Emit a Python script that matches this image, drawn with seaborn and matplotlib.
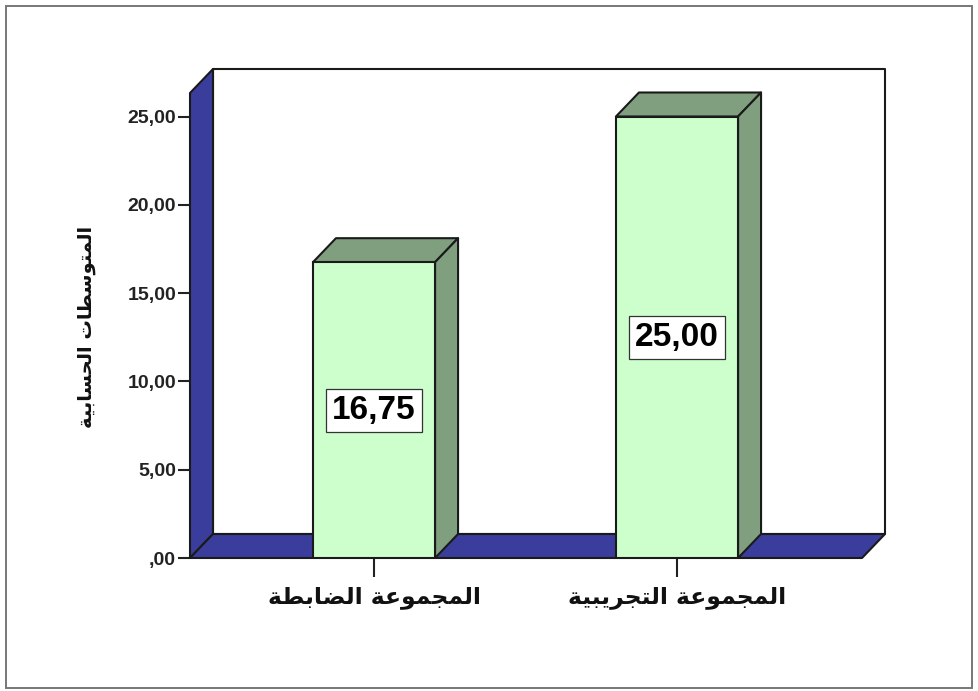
import matplotlib
matplotlib.use("Agg")
import matplotlib.pyplot as plt
from matplotlib.patches import Polygon, Rectangle
import pandas as pd
import seaborn as sns

# Chart values
groups = ["المجموعة الضابطة", "المجموعة التجريبية"]
means = [16.75, 25.00]
y_ticks = [0, 5, 10, 15, 20, 25]
y_title = "المتوسطات الحسابية"

# Colours
BLUE = "#3A3D9C"
LIGHT_GREEN = "#CCFFCC"
DARK_GREEN = "#7F9F7F"

# Arabic presentation forms: isolated, final, initial, medial
FORMS = {
    "ا": ("\uFE8D", "\uFE8E", None, None),
    "ب": ("\uFE8F", "\uFE90", "\uFE91", "\uFE92"),
    "ة": ("\uFE93", "\uFE94", None, None),
    "ت": ("\uFE95", "\uFE96", "\uFE97", "\uFE98"),
    "ج": ("\uFE9D", "\uFE9E", "\uFE9F", "\uFEA0"),
    "ح": ("\uFEA1", "\uFEA2", "\uFEA3", "\uFEA4"),
    "ر": ("\uFEAD", "\uFEAE", None, None),
    "س": ("\uFEB1", "\uFEB2", "\uFEB3", "\uFEB4"),
    "ض": ("\uFEBD", "\uFEBE", "\uFEBF", "\uFEC0"),
    "ط": ("\uFEC1", "\uFEC2", "\uFEC3", "\uFEC4"),
    "ع": ("\uFEC9", "\uFECA", "\uFECB", "\uFECC"),
    "ل": ("\uFEDD", "\uFEDE", "\uFEDF", "\uFEE0"),
    "م": ("\uFEE1", "\uFEE2", "\uFEE3", "\uFEE4"),
    "و": ("\uFEED", "\uFEEE", None, None),
    "ي": ("\uFEF1", "\uFEF2", "\uFEF3", "\uFEF4"),
}


def shape(text):
    """Join Arabic letters and lay them out left to right for drawing."""
    out = []
    for i, ch in enumerate(text):
        if ch not in FORMS:
            out.append(ch)
            continue
        prev = text[i - 1] if i else " "
        nxt = text[i + 1] if i + 1 < len(text) else " "
        joins_prev = prev in FORMS and FORMS[prev][2] is not None
        joins_next = nxt in FORMS and FORMS[ch][2] is not None
        iso, fin, ini, med = FORMS[ch]
        if joins_prev and joins_next:
            out.append(med)
        elif joins_prev:
            out.append(fin)
        elif joins_next:
            out.append(ini)
        else:
            out.append(iso)
    return "".join(reversed(out))


def comma(value):
    text = f"{value:.2f}".replace(".", ",")
    return text[1:] if text.startswith("0,") else text


sns.set_style("white")
W, H = 979, 691
fig = plt.figure(figsize=(W / 100, H / 100), dpi=100, facecolor="white")

# Axes box equals the front plane of the 3D frame (pixel layout)
left, right, bottom, top = 190, 862, 558, 93
ax = fig.add_axes([left / W, 1 - bottom / H, (right - left) / W, (bottom - top) / H])
ax.patch.set_alpha(0)

df = pd.DataFrame({"group": groups, "mean": means})
sns.barplot(data=df, x="group", y="mean", ax=ax, width=0.403, color=LIGHT_GREEN,
            saturation=1, edgecolor="#1a1a1a", linewidth=1.5, zorder=5)

y_per_px = 25 / (558 - 116.5)
ymax = (bottom - top) * y_per_px
x_per_px = 1 / 303
xmin = -(374 - left) * x_per_px
xmax = xmin + (right - left) * x_per_px
ax.set_xlim(xmin, xmax)
ax.set_ylim(0, ymax)

dx, dy = 23 * x_per_px, 24 * y_per_px
line = dict(edgecolor="#1a1a1a", linewidth=1.5, clip_on=False, joinstyle="round")

# Back wall, side wall and floor
ax.add_patch(Rectangle((xmin + dx, dy), xmax - xmin, ymax, facecolor="white", zorder=1, **line))
ax.add_patch(Polygon([(xmin, 0), (xmin + dx, dy), (xmin + dx, ymax + dy), (xmin, ymax)],
                     facecolor=BLUE, zorder=2, **line))
ax.add_patch(Polygon([(xmin, 0), (xmax, 0), (xmax + dx, dy), (xmin + dx, dy)],
                     facecolor=BLUE, zorder=2, **line))

# Top and side faces of each bar, taken from the bar rectangles
bars = list(ax.containers[0])
for bar in bars:
    x0, w, h = bar.get_x(), bar.get_width(), bar.get_height()
    x1 = x0 + w
    ax.add_patch(Polygon([(x0, h), (x1, h), (x1 + dx, h + dy), (x0 + dx, h + dy)],
                         facecolor=DARK_GREEN, zorder=4, **line))
    ax.add_patch(Polygon([(x1, 0), (x1, h), (x1 + dx, h + dy), (x1 + dx, dy)],
                         facecolor=DARK_GREEN, zorder=4, **line))

# Value labels in white boxes, centred on half the bar height
for bar, value in zip(bars, means):
    ax.annotate(comma(value), (bar.get_x() + bar.get_width() / 2, value / 2),
                xytext=(0, 2), textcoords="offset points",
                ha="center", va="center_baseline", family="Liberation Sans", weight="bold",
                fontsize=24, color="black", zorder=7,
                bbox=dict(boxstyle="square,pad=0.18", facecolor="white",
                          edgecolor="#333333", linewidth=0.9))

# Axes furniture
for spine in ax.spines.values():
    spine.set_visible(False)
ax.set_yticks(y_ticks)
ax.set_yticklabels([comma(t) for t in y_ticks], family="Liberation Sans",
                   weight="bold", fontsize=14, color="#222222")
ax.tick_params(axis="y", left=True, length=9, width=1.5, color="#222222", pad=1)
ax.set_xticks(range(len(groups)))
ax.set_xticklabels([shape(g) for g in groups], family="DejaVu Sans", weight="bold",
                   fontsize=16.9, color="#111111")
ax.tick_params(axis="x", bottom=True, length=14, width=1.5, color="#222222", pad=6)
ax.set_xlabel("")
ax.set_ylabel("")
fig.text(87 / W, 1 - 327 / H, shape(y_title), rotation=90, ha="center", va="center",
         family="DejaVu Sans", weight="bold", fontsize=14, color="#111111")

# Thin outer frame around the whole chart
fig.add_artist(Rectangle((6 / W, 1 - 688 / H), 966 / W, 682 / H, transform=fig.transFigure,
                         facecolor="none", edgecolor="#777777", linewidth=1.4))

fig.savefig("out.png", dpi=100)
